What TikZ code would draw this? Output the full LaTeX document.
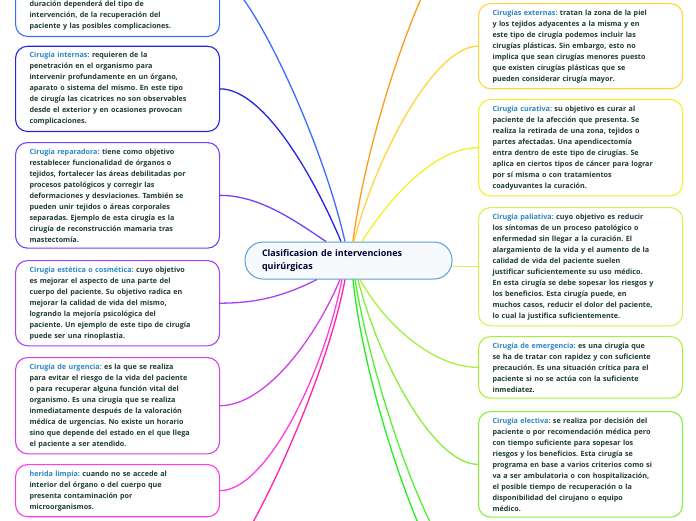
\documentclass[tikz,border=0pt]{standalone}
\usepackage{fontspec}
\setmainfont{Open Sans}
\usetikzlibrary{positioning, calc}
\definecolor{mText}{HTML}{1E3B36}
\definecolor{mLabel}{HTML}{2A86C2}
\definecolor{mRoot}{HTML}{5A9FD4}
\definecolor{cA}{HTML}{3A6CFF}
\definecolor{cB}{HTML}{2424E6}
\definecolor{cC}{HTML}{7440FA}
\definecolor{cD}{HTML}{A244F2}
\definecolor{cE}{HTML}{D040E8}
\definecolor{cF}{HTML}{FF3CE6}
\definecolor{cG}{HTML}{FF22AA}
\definecolor{cO}{HTML}{FF9A1F}
\definecolor{cP}{HTML}{FFD43C}
\definecolor{cQ}{HTML}{F2F026}
\definecolor{cR}{HTML}{D6F24E}
\definecolor{cS}{HTML}{A8F03C}
\definecolor{cT}{HTML}{88EE3C}
\definecolor{cU}{HTML}{22EE22}
\definecolor{cV}{HTML}{55F030}
\newcommand{\lbl}[1]{\textcolor{mLabel}{#1}}

\begin{document}
\begin{tikzpicture}[x=1pt, y=-1pt,
  topic/.style={draw, line width=1.1pt, rounded corners=12pt, fill=white,
                text width=176pt, inner xsep=14pt, inner ysep=6pt, align=left,
                anchor=north west, text=mText,
                font=\fontsize{7.2}{11}\selectfont\bfseries\frenchspacing},
  root/.style={draw=mRoot, line width=1pt, rounded corners=18pt, fill=mRoot!5,
               text width=173pt, inner xsep=17pt, minimum height=37pt,
               align=left, text=black!80!blue,
               font=\fontsize{9}{13}\selectfont\bfseries},
  link/.style={line width=1.3pt},
]
  \useasboundingbox (0,0) rectangle (696,520);

  \node[root] (root) at (348.5,260.5) {Clasificasion de intervenciones\\quirúrgicas};

  % left column
  \node[topic, draw=cA, anchor=south west] (mayor) at (15,37) {
    \rule{0pt}{70pt}\\
    duración dependerá del tipo de\\
    intervención, de la recuperación del\\
    paciente y las posibles complicaciones.};
  \node[topic, draw=cB] (intern) at (15,45.7) {
    \lbl{Cirugía internas:} requieren de la\\
    penetración en el organismo para\\
    intervenir profundamente en un órgano,\\
    aparato o sistema del mismo. En este tipo\\
    de cirugía las cicatrices no son observables\\
    desde el exterior y en ocasiones provocan\\
    complicaciones.};
  \node[topic, draw=cC] (repar) at (15,142) {
    \lbl{Cirugía reparadora:} tiene como objetivo\\
    restablecer funcionalidad de órganos o\\
    tejidos, fortalecer las áreas debilitadas por\\
    procesos patológicos y corregir las\\
    deformaciones y desviaciones. También se\\
    pueden unir tejidos o áreas corporales\\
    separadas. Ejemplo de esta cirugía es la\\
    cirugía de reconstrucción mamaria tras\\
    mastectomía.};
  \node[topic, draw=cD] (estet) at (15,260) {
    \lbl{Cirugía estética o cosmética:} cuyo objetivo\\
    es mejorar el aspecto de una parte del\\
    cuerpo del paciente. Su objetivo radica en\\
    mejorar la calidad de vida del mismo,\\
    logrando la mejoría psicológica del\\
    paciente. Un ejemplo de este tipo de cirugía\\
    puede ser una rinoplastia.};
  \node[topic, draw=cE] (urgen) at (15,357) {
    \lbl{Cirugía de urgencia:} es la que se realiza\\
    para evitar el riesgo de la vida del paciente\\
    o para recuperar alguna función vital del\\
    organismo. Es una cirugía que se realiza\\
    inmediatamente después de la valoración\\
    médica de urgencias. No existe un horario\\
    sino que depende del estado en el que llega\\
    el paciente a ser atendido.};
  \node[topic, draw=cF] (limpia) at (15,464) {
    \lbl{herida limpia:} cuando no se accede al\\
    interior del órgano o del cuerpo que\\
    presenta contaminación por\\
    microorganismos.};
  \coordinate (below) at (200,590);

  % right column
  \coordinate (above) at (478,-80);
  \node[topic, draw=cP] (extern) at (478,3) {
    \lbl{Cirugías externas:} tratan la zona de la piel\\
    y los tejidos adyacentes a la misma y en\\
    este tipo de cirugía podemos incluir las\\
    cirugías plásticas. Sin embargo, esto no\\
    implica que sean cirugías menores puesto\\
    que existen cirugías plásticas que se\\
    pueden considerar cirugía mayor.};
  \node[topic, draw=cQ] (curat) at (478,99) {
    \lbl{Cirugía curativa:} su objetivo es curar al\\
    paciente de la afección que presenta. Se\\
    realiza la retirada de una zona, tejidos o\\
    partes afectadas. Una apendicectomía\\
    entra dentro de este tipo de cirugías. Se\\
    aplica en ciertos tipos de cáncer para lograr\\
    por sí misma o con tratamientos\\
    coadyuvantes la curación.};
  \node[topic, draw=cR] (paliat) at (478,207) {
    \lbl{Cirugía paliativa:} cuyo objetivo es reducir\\
    los síntomas de un proceso patológico o\\
    enfermedad sin llegar a la curación. El\\
    alargamiento de la vida y el aumento de la\\
    calidad de vida del paciente suelen\\
    justificar suficientemente su uso médico.\\
    En esta cirugía se debe sopesar los riesgos y\\
    los beneficios. Esta cirugía puede, en\\
    muchos casos, reducir el dolor del paciente,\\
    lo cual la justifica suficientemente.};
  \node[topic, draw=cS] (emerg) at (478,336) {
    \lbl{Cirugía de emergencia:} es una cirugía que\\
    se ha de tratar con rapidez y con suficiente\\
    precaución. Es una situación crítica para el\\
    paciente si no se actúa con la suficiente\\
    inmediatez.};
  \node[topic, draw=cT] (elect) at (478,411) {
    \lbl{Cirugía electiva:} se realiza por decisión del\\
    paciente o por recomendación médica pero\\
    con tiempo suficiente para sopesar los\\
    riesgos y los beneficios. Esta cirugía se\\
    programa en base a varios criterios como si\\
    va a ser ambulatoria o con hospitalización,\\
    el posible tiempo de recuperación o la\\
    disponibilidad del cirujano o equipo\\
    médico.};
  \coordinate (belowA) at (478,610);
  \coordinate (belowB) at (478,580);

  % connectors
  \draw[link, cA] (mayor.east) .. controls +(25,0) and +(-25,-110) .. ($(root.north)+(-3.5,0)$);
  \draw[link, cB] (intern.east) .. controls +(45,0) and +(-25,-60) .. ($(root.north)+(-7.5,0)$);
  \draw[link, cC] (repar.east) .. controls +(40,0) and +(-30,-20) .. ($(root.north)+(-22.5,0)$);
  \draw[link, cD] (estet.east) .. controls +(40,0) and +(-30,15) .. ($(root.south)+(-31.5,0)$);
  \draw[link, cE] (urgen.east) .. controls +(45,0) and +(-25,60) .. ($(root.south)+(-8.5,0)$);
  \draw[link, cF] (limpia.east) .. controls +(45,0) and +(-20,100) .. ($(root.south)+(-6.5,0)$);
  \draw[link, cG] (below) .. controls +(30,0) and +(-20,110) .. ($(root.south)+(-3.5,0)$);

  \draw[link, cO] ($(root.north)+(4.5,0)$) .. controls +(15,-120) and +(-40,0) .. (above);
  \draw[link, cP] ($(root.north)+(5.5,0)$) .. controls +(20,-80) and +(-45,0) .. (extern.west);
  \draw[link, cQ] ($(root.north)+(13.5,0)$) .. controls +(25,-40) and +(-45,0) .. (curat.west);
  \draw[link, cR] (paliat.west) -- (paliat.west -| root.east);
  \draw[link, cS] ($(root.south)+(11.5,0)$) .. controls +(25,45) and +(-45,0) .. (emerg.west);
  \draw[link, cT] ($(root.south)+(9.5,0)$) .. controls +(20,80) and +(-45,0) .. (elect.west);
  \draw[link, cU] ($(root.south)+(4.5,0)$) .. controls +(12,120) and +(-40,0) .. (belowA);
  \draw[link, cV] ($(root.south)+(6.5,0)$) .. controls +(18,110) and +(-40,0) .. (belowB);
\end{tikzpicture}
\end{document}
